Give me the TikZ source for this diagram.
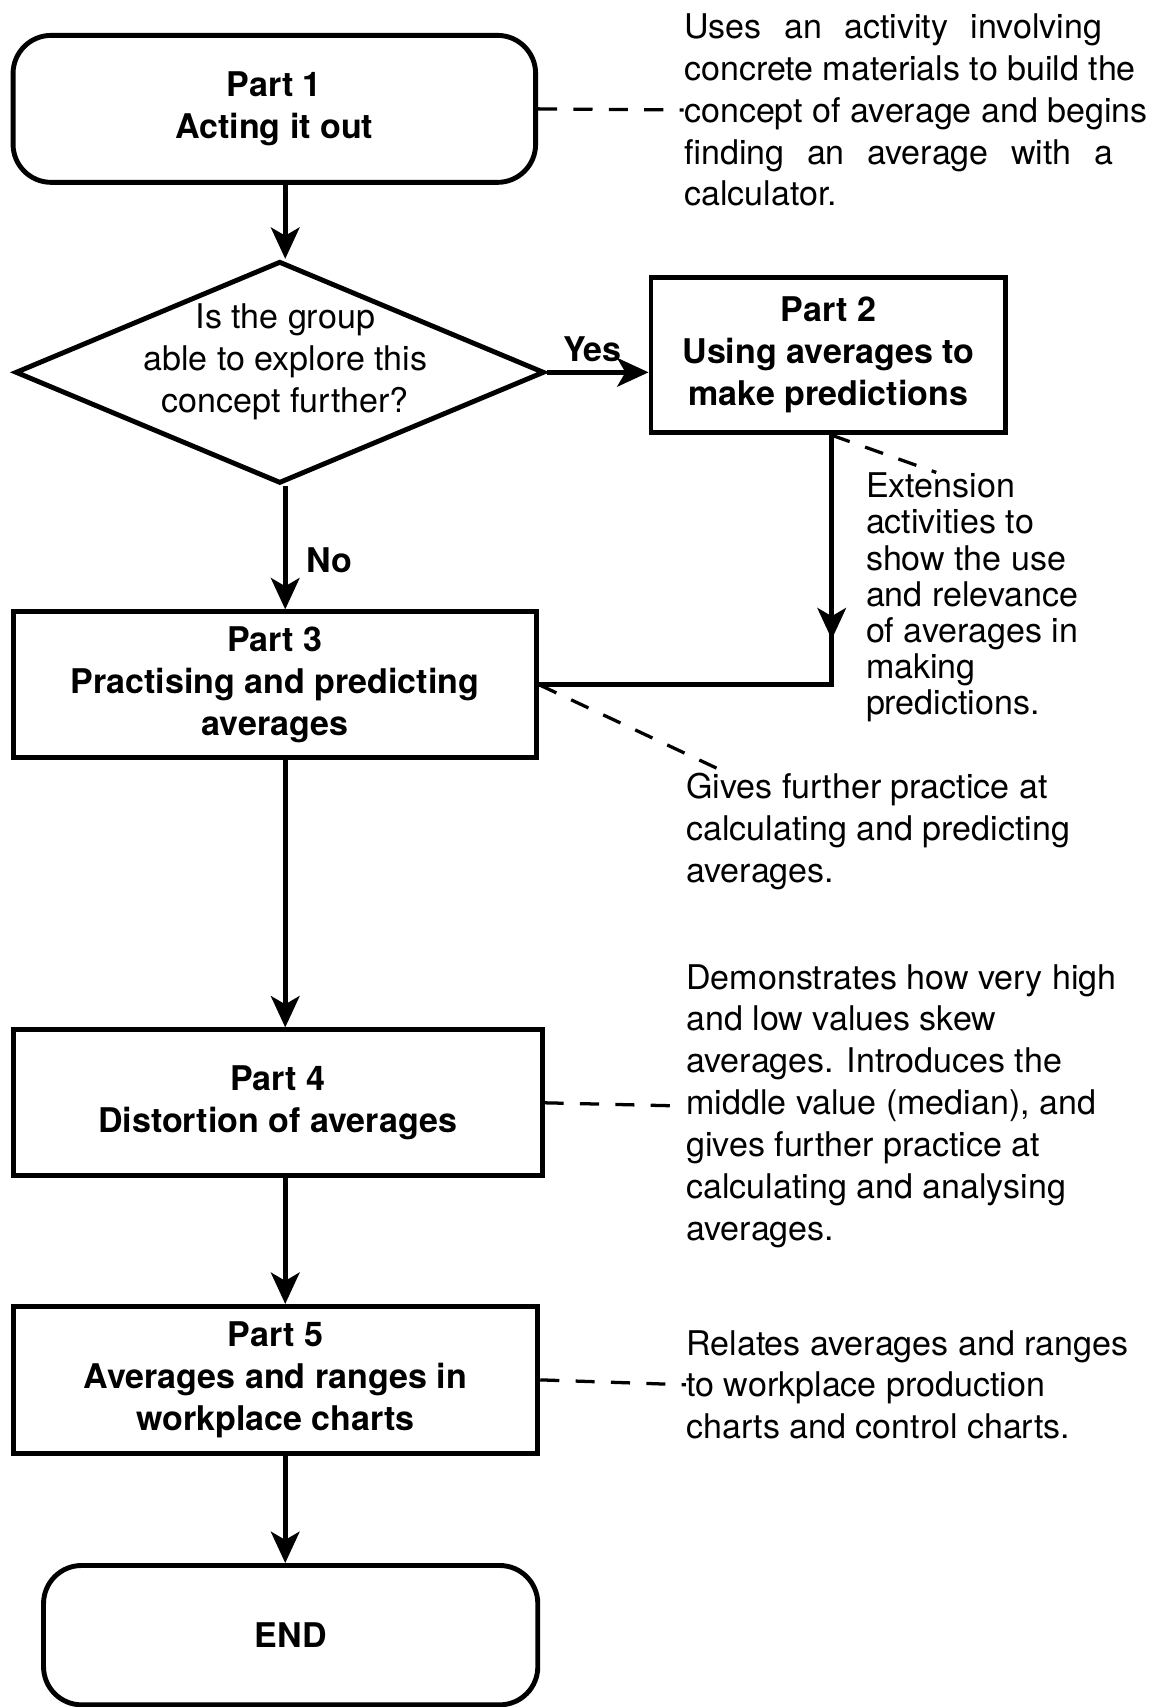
\documentclass[tikz,border=0pt]{standalone}
\usepackage{fontspec}
\setmainfont{TeX Gyre Heros}
\usetikzlibrary{arrows.meta,shapes.geometric,decorations.markings}

\begin{document}
\begin{tikzpicture}[x=0.4pt,y=-0.4pt,>={Stealth[length=11.5pt,width=10.5pt,inset=3pt]},
    part/.style={draw,line width=1.8pt,align=center,font=\bfseries\fontsize{12.5}{15.4}\selectfont},
    terminal/.style={part,rounded corners=14pt},
    decision/.style={draw,diamond,line width=1.8pt,inner sep=0,minimum width=194.4pt,minimum height=81.6pt},
    note/.style={inner sep=0,anchor=west,align=left,font=\fontsize{12.5}{15.4}\selectfont},
    flow/.style={->,line width=1.8pt},
    wire/.style={line width=1.8pt},
    link/.style={line width=1.2pt,dash pattern=on 7pt off 6pt}]
    \useasboundingbox (0,0) rectangle (1067,1568);
    \coordinate (spine) at (262,0);

    % 流程框
    \node[terminal,minimum width=192pt,minimum height=54pt] (p1) at (252,100) {Part 1\\Acting it out};
    \node[decision,label={[align=center,yshift=4pt,xshift=2pt,font=\fontsize{12.5}{15.4}\selectfont]center:{Is the group\\able to explore this\\concept further?}}] (dec) at (257,342) {};
    \node[part,minimum width=130.4pt,minimum height=57.2pt] (p2) at (761,326) {Part 2\\Using averages to\\make predictions};
    \node[part,minimum width=192.4pt,minimum height=53.6pt] (p3) at (252.5,629) {Part 3\\Practising and predicting\\averages};
    \node[part,minimum width=194.4pt,minimum height=53.6pt] (p4) at (255,1013) {Part 4\\Distortion of averages};
    \node[part,minimum width=192.8pt,minimum height=54pt] (p5) at (253,1267.5) {Part 5\\Averages and ranges in\\workplace charts};
    \node[terminal,minimum width=181.6pt,minimum height=51.2pt] (end) at (267,1502) {END};

    % 说明文字
    \node[note] (t1) at (628,101) {\makebox[153.6pt][s]{Uses an activity involving}\\concrete materials to build the\\concept of average and begins\\\makebox[157.6pt][s]{finding an average with a}\\calculator.};
    \node[note,font=\fontsize{12.5}{13.3}\selectfont] (t2) at (795,549) {Extension\\activities to\\show the use\\and relevance\\of averages in\\making\\predictions.};
    \node[note] (t3) at (630,764) {Gives further practice at\\calculating and predicting\\averages.};
    \node[note] (t4) at (630,1016) {Demonstrates how very high\\and low values skew\\averages. Introduces the\\middle value (median), and\\gives further practice at\\calculating and analysing\\averages.};
    \node[note] (t5) at (630,1272) {Relates averages and ranges\\to workplace production\\charts and control charts.};

    % 主流程箭头
    \draw[flow] (p1.south -| spine) -- (dec.north -| spine);
    \draw[flow] (dec.east) -- node[above=3pt,pos=0.45,inner sep=0,font=\bfseries\fontsize{12.5}{15.4}\selectfont] {Yes} (dec.east -| p2.west);
    \draw[flow] (dec.south -| spine) -- node[right=7pt,pos=0.6,inner sep=0,font=\bfseries\fontsize{12.5}{15.4}\selectfont] {No} (p3.north -| spine);
    \draw[wire,postaction={decorate},decoration={markings,mark=at position 75pt with {\arrow{>}}}] ([xshift=1.2pt]p2.south) |- (p3.east);
    \draw[flow] (p3.south -| spine) -- (p4.north -| spine);
    \draw[flow] (p4.south -| spine) -- (p5.north -| spine);
    \draw[flow] (p5.south -| spine) -- (end.north -| spine);

    % 虚线引出说明
    \draw[link] (p1.east) -- (t1.west);
    \draw[link] ([xshift=1.2pt]p2.south) -- ([xshift=26pt]t2.north west);
    \draw[link] (p3.east) -- ([xshift=15pt]t3.north west);
    \draw[link] (p4.east) -- (t4.west);
    \draw[link] (p5.east) -- (t5.west);
\end{tikzpicture}
\end{document}
